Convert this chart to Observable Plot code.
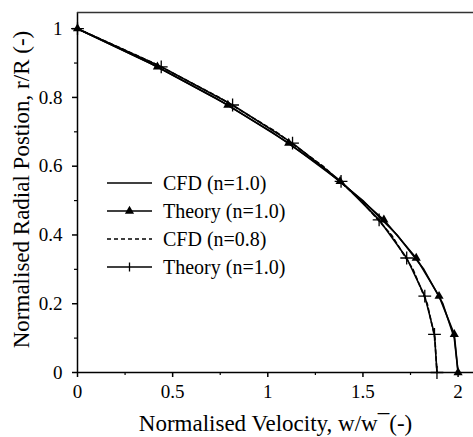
<!DOCTYPE html>
<html>
<head>
<meta charset="utf-8">
<script src="https://cdn.jsdelivr.net/npm/d3@7"></script>
<script src="https://cdn.jsdelivr.net/npm/@observablehq/plot@0.6"></script>
<style>
  html, body { margin: 0; padding: 0; background: white; }
  #chart { position: relative; width: 473px; height: 437px; }
</style>
</head>
<body>
<div id="chart"></div>
<script>
// Radial positions of the theory markers and their normalised velocities
const theoryRadial = [1, 0.889, 0.778, 0.667, 0.556, 0.444, 0.333, 0.222, 0.111, 0];
const theoryN10 = [0, 0.42, 0.79, 1.11, 1.38, 1.61, 1.78, 1.90, 1.98, 2.0];
const theoryN08 = [0, 0.44, 0.815, 1.13, 1.385, 1.585, 1.73, 1.825, 1.876, 1.889];

// CFD profiles
const cfdRadial = [1, 0.9, 0.8, 0.7, 0.6, 0.5, 0.4, 0.3, 0.2, 0.1, 0];
const cfdN10 = [0, 0.38, 0.72, 1.02, 1.28, 1.5, 1.68, 1.82, 1.92, 1.98, 2.0];
const cfdN08 = [0, 0.40, 0.745, 1.043, 1.29, 1.49, 1.65, 1.763, 1.838, 1.878, 1.889];

const legendLabels = ["CFD (n=1.0)", "Theory (n=1.0)", "CFD (n=0.8)", "Theory (n=1.0)"];
const xTicks = [0, 0.5, 1, 1.5, 2];
const xMinor = [0.25, 0.75, 1.25, 1.75];
const yTicks = [0, 0.2, 0.4, 0.6, 0.8, 1];
const yMinor = [0.1, 0.3, 0.5, 0.7, 0.9];
const xLabel = "Normalised Velocity, w/w\u00AF(-)";
const yLabel = "Normalised Radial Postion, r/R (-)";
const xMax = 2.081;
const yMax = 1.047;

const toRows = (ys, xs) => ys.map((y, i) => ({x: xs[i], y}));
const cfd10 = toRows(cfdRadial, cfdN10);
const cfd08 = toRows(cfdRadial, cfdN08);
const th10 = toRows(theoryRadial, theoryN10);
const th08 = toRows(theoryRadial, theoryN08);

const font = "'Liberation Serif', 'Times New Roman', serif";

const plot = Plot.plot({
  width: 473,
  height: 437,
  marginLeft: 77,
  marginRight: 0,
  marginTop: 12,
  marginBottom: 65,
  style: {fontFamily: font, fontSize: "19px", background: "white", color: "black"},
  x: {domain: [0, xMax]},
  y: {domain: [0, yMax]},
  marks: [
    Plot.line(cfd10, {x: "x", y: "y", stroke: "black", strokeWidth: 1.6}),
    Plot.line(cfd08, {x: "x", y: "y", stroke: "black", strokeWidth: 1.6, strokeDasharray: "4,3"}),
    Plot.line(th10, {x: "x", y: "y", stroke: "black", strokeWidth: 1.6}),
    Plot.dot(th10, {x: "x", y: "y", symbol: "triangle", fill: "black", r: 3.4}),
    Plot.line(th08, {x: "x", y: "y", stroke: "black", strokeWidth: 1.6}),
    Plot.dot(th08, {x: "x", y: "y", symbol: "plus", stroke: "black", strokeWidth: 1.3, r: 4.2}),
    Plot.ruleX([0], {stroke: "black", strokeWidth: 1.5}),
    Plot.ruleY([0], {stroke: "black", strokeWidth: 1.5}),
    Plot.ruleY([yMax], {stroke: "#333", strokeWidth: 1.5}),
    Plot.axisX({ticks: xTicks, tickSize: 5, tickPadding: 7, strokeWidth: 1.5, tickFormat: d => String(d), label: null}),
    Plot.axisX({ticks: xMinor, tickSize: 3, strokeWidth: 1.2, tickFormat: () => "", label: null}),
    Plot.axisY({ticks: yTicks, tickSize: 5, tickPadding: 10, strokeWidth: 1.5, tickFormat: d => String(d), label: null}),
    Plot.axisY({ticks: yMinor, tickSize: 3, strokeWidth: 1.2, tickFormat: () => "", label: null}),
    Plot.text([xLabel], {frameAnchor: "bottom", dy: 51, fontSize: 23, textAnchor: "middle", lineAnchor: "middle", fill: "black"}),
    Plot.text([yLabel], {frameAnchor: "left", dx: -56, dy: -3, rotate: -90, fontSize: 23, textAnchor: "middle", lineAnchor: "middle", fill: "black"})
  ]
});

document.getElementById("chart").appendChild(plot);

// Legend inside the plot area
const svg = d3.select(plot);
const lg = svg.append("g").attr("font-family", font).attr("font-size", 20).attr("text-anchor", "start");
const rowY0 = 183, rowStep = 28, lineX0 = 107, lineX1 = 152, textX = 163;
legendLabels.forEach((lab, i) => {
  const yy = rowY0 + i * rowStep;
  const ln = lg.append("line")
    .attr("x1", lineX0).attr("x2", lineX1).attr("y1", yy).attr("y2", yy)
    .attr("stroke", "black").attr("stroke-width", 1.6);
  if (i === 2) ln.attr("stroke-dasharray", "4,3");
  const cx = (lineX0 + lineX1) / 2;
  if (i === 1) {
    lg.append("path").attr("d", d3.symbol(d3.symbolTriangle, Math.PI * 3.4 * 3.4)())
      .attr("transform", `translate(${cx},${yy})`).attr("fill", "black");
  }
  if (i === 3) {
    lg.append("line").attr("x1", cx).attr("x2", cx).attr("y1", yy - 4.5).attr("y2", yy + 4.5)
      .attr("stroke", "black").attr("stroke-width", 1.3);
  }
  lg.append("text").attr("x", textX).attr("y", yy).attr("dy", "0.33em")
    .attr("text-anchor", "start").attr("fill", "black").text(lab);
});
</script>
</body>
</html>
